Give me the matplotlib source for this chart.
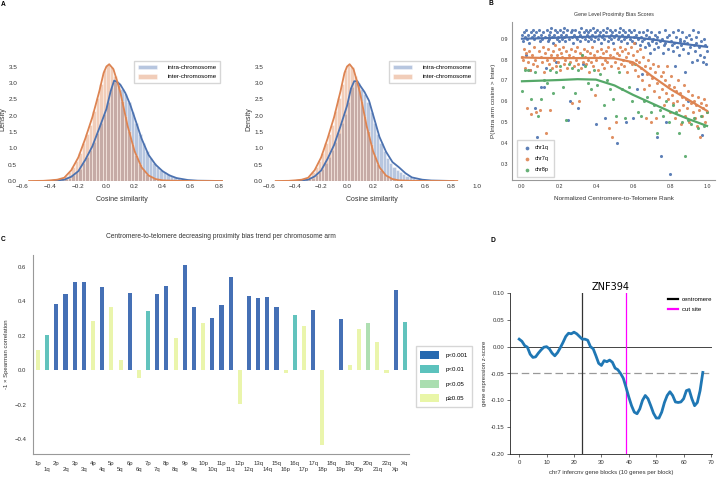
import matplotlib
matplotlib.use("Agg")
import matplotlib.pyplot as plt
import numpy as np
from matplotlib.patches import Patch
from matplotlib.lines import Line2D

plt.rcParams['font.family'] = ['Liberation Sans', 'DejaVu Sans']

# ---------------- panel A data (density of cosine similarity) ----------------
intra_bin_lo = -0.325
inter_bin_lo = -0.55
bin_w = 0.025
intra_hist = [0.03, 0.06, 0.10, 0.17, 0.26, 0.37, 0.55, 0.74, 0.96, 1.20, 1.48, 1.78, 2.05,
              2.42, 2.86, 3.02, 3.00, 2.82, 2.66, 2.40, 2.12, 1.78, 1.45, 1.15, 0.92, 0.70,
              0.56, 0.44, 0.34, 0.26, 0.20, 0.14, 0.11, 0.08, 0.06, 0.04, 0.03, 0.02, 0.01,
              0.008, 0.006, 0.005, 0.004, 0.003, 0.002, 0.002]
inter_hist = [0.002, 0.002, 0.003, 0.004, 0.006, 0.012, 0.02, 0.03, 0.05, 0.08, 0.15, 0.26,
              0.42, 0.62, 0.86, 1.15, 1.45, 1.70, 2.15, 2.55, 2.98, 3.38, 3.55, 3.50, 3.22,
              2.92, 2.45, 1.98, 1.52, 1.12, 0.78, 0.52, 0.35, 0.22, 0.14, 0.09, 0.06, 0.04,
              0.025, 0.015]
intra_kde_x = [-0.40, -0.30, -0.25, -0.20, -0.15, -0.10, -0.05, 0.00, 0.03, 0.055, 0.08, 0.10,
               0.135, 0.17, 0.21, 0.25, 0.30, 0.35, 0.40, 0.45, 0.50, 0.58, 0.65, 0.82]
intra_kde_y = [0.0, 0.04, 0.13, 0.30, 0.65, 1.06, 1.62, 2.20, 2.74, 3.07, 3.02, 2.94,
               2.69, 2.33, 1.82, 1.30, 0.80, 0.50, 0.30, 0.17, 0.09, 0.03, 0.01, 0.0]
intra2_kde_y = [0.0, 0.04, 0.14, 0.32, 0.68, 1.10, 1.68, 2.30, 2.82, 3.05, 3.05, 2.92,
                2.72, 2.45, 1.90, 1.35, 0.90, 0.58, 0.42, 0.24, 0.11, 0.04, 0.015, 0.0]
inter_kde_x = [-0.55, -0.45, -0.40, -0.35, -0.30, -0.25, -0.20, -0.15, -0.10, -0.05, -0.02,
               0.00, 0.02, 0.05, 0.08, 0.10, 0.12, 0.15, 0.20, 0.25, 0.30, 0.35, 0.40, 0.50,
               0.60, 0.85]
inter_kde_y = [0.0, 0.005, 0.02, 0.04, 0.10, 0.33, 0.72, 1.30, 1.95, 2.75, 3.30, 3.50, 3.57,
               3.42, 3.00, 2.70, 2.30, 1.70, 0.92, 0.42, 0.17, 0.06, 0.02, 0.005, 0.002, 0.0]

# ---------------- panel B data (gene level scores, ordered by rank) ----------------
chr1q = [0.92, 0.89, 0.93, 0.91, 0.82, 0.94, 0.90, 0.92, 0.88, 0.75, 0.93, 0.91, 0.94, 0.90, 0.92,
         0.57, 0.93, 0.43, 0.91, 0.94, 0.89, 0.67, 0.92, 0.90, 0.93, 0.67, 0.91, 0.76, 0.94, 0.89,
         0.92, 0.90, 0.93, 0.95, 0.91, 0.88, 0.92, 0.94, 0.79, 0.90, 0.93, 0.91, 0.89, 0.94, 0.92,
         0.90, 0.93, 0.91, 0.95, 0.89, 0.92, 0.94, 0.51, 0.90, 0.60, 0.93, 0.91, 0.94, 0.88, 0.92,
         0.94, 0.91, 0.90, 0.57, 0.93, 0.92, 0.89, 0.95, 0.91, 0.78, 0.93, 0.90, 0.94, 0.92, 0.89,
         0.93, 0.91, 0.94, 0.90, 0.92, 0.95, 0.89, 0.93, 0.91, 0.49, 0.94, 0.90, 0.92, 0.93, 0.88,
         0.91, 0.94, 0.92, 0.90, 0.52, 0.93, 0.95, 0.89, 0.91, 0.94, 0.92, 0.90, 0.93, 0.88, 0.91,
         0.94, 0.92, 0.40, 0.90, 0.93, 0.91, 0.95, 0.89, 0.92, 0.94, 0.90, 0.93, 0.50, 0.91, 0.88,
         0.92, 0.94, 0.90, 0.93, 0.89, 0.52, 0.91, 0.94, 0.88, 0.92, 0.66, 0.90, 0.93, 0.87, 0.91,
         0.89, 0.73, 0.93, 0.90, 0.86, 0.92, 0.94, 0.88, 0.91, 0.87, 0.83, 0.93, 0.89, 0.90, 0.85,
         0.92, 0.88, 0.91, 0.43, 0.86, 0.93, 0.89, 0.34, 0.90, 0.83, 0.87, 0.94, 0.88, 0.50, 0.91,
         0.85, 0.92, 0.25, 0.89, 0.87, 0.93, 0.84, 0.88, 0.77, 0.91, 0.86, 0.94, 0.82, 0.89, 0.90,
         0.87, 0.93, 0.85, 0.89, 0.74, 0.91, 0.88, 0.83, 0.60, 0.92, 0.86, 0.90, 0.79, 0.94, 0.87,
         0.84, 0.91, 0.88, 0.80, 0.93, 0.86, 0.82, 0.89, 0.44, 0.79, 0.90, 0.81, 0.87, 0.78, 0.84]
chr7q = [0.81, 0.80, 0.85, 0.76, 0.83, 0.57, 0.79, 0.84, 0.75, 0.54, 0.82, 0.78, 0.86, 0.80, 0.55,
         0.77, 0.84, 0.56, 0.81, 0.79, 0.86, 0.74, 0.83, 0.45, 0.80, 0.85, 0.78, 0.56, 0.82, 0.76,
         0.84, 0.80, 0.87, 0.77, 0.82, 0.79, 0.85, 0.75, 0.83, 0.81, 0.86, 0.78, 0.80, 0.84, 0.76,
         0.82, 0.79, 0.85, 0.59, 0.81, 0.77, 0.84, 0.80, 0.86, 0.78, 0.60, 0.83, 0.76, 0.82, 0.79,
         0.85, 0.81, 0.78, 0.84, 0.80, 0.74, 0.83, 0.79, 0.86, 0.77, 0.82, 0.63, 0.80, 0.84, 0.75,
         0.81, 0.85, 0.78, 0.83, 0.76, 0.80, 0.84, 0.79, 0.86, 0.47, 0.82, 0.77, 0.43, 0.81, 0.85,
         0.79, 0.50, 0.83, 0.76, 0.82, 0.86, 0.78, 0.84, 0.80, 0.77, 0.85, 0.81, 0.74, 0.83, 0.79,
         0.86, 0.78, 0.82, 0.88, 0.75, 0.80, 0.84, 0.72, 0.79, 0.85, 0.76, 0.70, 0.81, 0.66, 0.77,
         0.52, 0.73, 0.80, 0.68, 0.76, 0.50, 0.71, 0.78, 0.65, 0.74, 0.52, 0.69, 0.77, 0.62, 0.72,
         0.66, 0.74, 0.58, 0.70, 0.64, 0.77, 0.61, 0.68, 0.55, 0.72, 0.63, 0.59, 0.67, 0.52, 0.65,
         0.60, 0.70, 0.56, 0.64, 0.49, 0.62, 0.58, 0.68, 0.53, 0.61, 0.57, 0.65, 0.50, 0.59, 0.63,
         0.55, 0.60, 0.52, 0.58, 0.48, 0.62, 0.56, 0.43, 0.59, 0.53, 0.57, 0.61, 0.50, 0.58, 0.55]
chr8p = [0.65, 0.75, 0.75, 0.61, 0.74, 0.53, 0.61, 0.70, 0.69, 0.75, 0.64, 0.74,
         0.77, 0.67, 0.51, 0.78, 0.76, 0.64, 0.75, 0.82, 0.77, 0.69, 0.66, 0.75,
         0.68, 0.73, 0.58, 0.70, 0.66, 0.61, 0.53, 0.74, 0.66, 0.52, 0.67, 0.60,
         0.78, 0.55, 0.53, 0.60, 0.62, 0.55, 0.58, 0.45, 0.56, 0.53, 0.60, 0.50,
         0.58, 0.55, 0.45, 0.50, 0.34, 0.51, 0.49, 0.52, 0.47, 0.53, 0.48, 0.55]
fit_x = [0.0, 0.1, 0.2, 0.3, 0.4, 0.5, 0.6, 0.65, 0.7, 0.8, 0.9, 1.0]
chr1q_fit = [0.900, 0.902, 0.905, 0.908, 0.910, 0.912, 0.906, 0.902, 0.897, 0.884, 0.872, 0.861]
chr7q_fit = [0.810, 0.808, 0.807, 0.807, 0.808, 0.806, 0.787, 0.756, 0.722, 0.660, 0.607, 0.554]
chr8p_fit = [0.696, 0.699, 0.702, 0.706, 0.704, 0.676, 0.631, 0.611, 0.591, 0.551, 0.515, 0.482]

# ---------------- panel C data ----------------
arms = ['1p', '1q', '2p', '2q', '3p', '3q', '4p', '4q', '5p', '5q', '6p', '6q', '7p', '7q',
        '8p', '8q', '9p', '9q', '10p', '10q', '11p', '11q', '12p', '12q', '13q', '14q', '15q',
        '16p', '16q', '17p', '17q', '18p', '18q', '19p', '19q', '20p', '20q', '21q', '22q',
        'Xp', 'Xq']
neg_spearman = [0.116, 0.203, 0.382, 0.44, 0.51, 0.51, 0.288, 0.485, 0.367, 0.06, 0.45, -0.042,
                0.342, 0.442, 0.488, 0.187, 0.61, 0.367, 0.276, 0.305, 0.378, 0.542, -0.195,
                0.43, 0.417, 0.425, 0.369, -0.014, 0.322, 0.257, 0.347, -0.434, 0.0, 0.297,
                0.029, 0.24, 0.274, 0.166, -0.017, 0.465, 0.28]
p_class = ['p≥0.05', 'p<0.01', 'p<0.001', 'p<0.001', 'p<0.001', 'p<0.001', 'p≥0.05', 'p<0.001',
           'p≥0.05', 'p≥0.05', 'p<0.001', 'p≥0.05', 'p<0.01', 'p<0.001', 'p<0.001', 'p≥0.05',
           'p<0.001', 'p<0.001', 'p≥0.05', 'p<0.001', 'p<0.001', 'p<0.001', 'p≥0.05', 'p<0.001',
           'p<0.001', 'p<0.001', 'p<0.001', 'p≥0.05', 'p<0.01', 'p≥0.05', 'p<0.001', 'p≥0.05',
           'p≥0.05', 'p<0.001', 'p≥0.05', 'p≥0.05', 'p<0.05', 'p≥0.05', 'p≥0.05', 'p<0.001',
           'p<0.01']
p_levels = ['p<0.001', 'p<0.01', 'p<0.05', 'p≥0.05']
bar_colors = {'p<0.001': '#4570b5', 'p<0.01': '#62c3bd', 'p<0.05': '#afdfb2', 'p≥0.05': '#eaf5ac'}
legend_colors = {'p<0.001': '#2669b0', 'p<0.01': '#5cc2bd', 'p<0.05': '#aadeb0', 'p≥0.05': '#e9f6a8'}

# ---------------- panel D data ----------------
blocks = list(range(68))
zscore = [0.014, 0.010, 0.002, -0.001, -0.014, -0.020, -0.019, -0.012, -0.006, -0.001,
          0.000, -0.004, -0.012, -0.017, -0.011, -0.002, 0.008, 0.019, 0.025, 0.024,
          0.027, 0.024, 0.019, 0.014, 0.014, 0.012, 0.000, -0.004, -0.017, -0.031,
          -0.035, -0.026, -0.028, -0.025, -0.029, -0.040, -0.043, -0.050, -0.059, -0.076,
          -0.094, -0.110, -0.122, -0.125, -0.116, -0.100, -0.091, -0.097, -0.110, -0.124,
          -0.133, -0.133, -0.122, -0.104, -0.091, -0.084, -0.091, -0.103, -0.104, -0.103,
          -0.097, -0.082, -0.080, -0.097, -0.110, -0.104, -0.082, -0.048]
centromere = 23
cut_site = 39

W, H = 719, 478
fig = plt.figure(figsize=(W / 100, H / 100), dpi=100)


def rect(l, t, r, b):
    return [l / W, 1 - b / H, (r - l) / W, (b - t) / H]


blue, orange, green = '#4c72b0', '#dd8452', '#55a868'


# ---- A ----
def density_panel(box, xlim, intra_y, xticks):
    ax = fig.add_axes(box)
    ax.bar(intra_bin_lo + bin_w * np.arange(len(intra_hist)), intra_hist, width=bin_w,
           align='edge', color=blue, alpha=0.4, edgecolor='white', linewidth=0.6,
           label='intra-chromosome')
    ax.plot(intra_kde_x, intra_y, color=blue, lw=1.3)
    ax.bar(inter_bin_lo + bin_w * np.arange(len(inter_hist)), inter_hist, width=bin_w,
           align='edge', color=orange, alpha=0.4, edgecolor='white', linewidth=0.6,
           label='inter-chromosome')
    ax.plot(inter_kde_x, inter_kde_y, color=orange, lw=1.3)
    ax.set_xlim(*xlim)
    ax.set_ylim(0, 3.76)
    ax.set_xticks(xticks)
    ax.set_yticks(np.arange(0, 3.6, 0.5))
    for s in ax.spines.values():
        s.set_visible(False)
    ax.tick_params(length=0, labelsize=4.6, pad=2, colors='#333333')
    ax.set_xlabel('Cosine similarity', fontsize=5, labelpad=5, color='#333333')
    ax.set_ylabel('Density', fontsize=5, labelpad=1, color='#333333')
    ax.legend(loc='upper right', fontsize=4.4, frameon=True, edgecolor='#cccccc',
              fancybox=False, handlelength=3.2, handleheight=0.8, borderpad=0.6,
              labelspacing=0.6, handletextpad=1.6)
    return ax


density_panel(rect(20, 58, 223, 181), (-0.615, 0.83), intra_kde_y,
              [-0.6, -0.4, -0.2, 0.0, 0.2, 0.4, 0.6, 0.8])
density_panel(rect(266, 58, 478, 181), (-0.625, 1.01), intra2_kde_y,
              [-0.6, -0.4, -0.2, 0.0, 0.2, 0.4, 0.6, 0.8, 1.0])

# ---- B ----
axb = fig.add_axes(rect(512, 22, 715, 180))
for vals, col, name in [(chr1q, blue, 'chr1q'), (chr7q, orange, 'chr7q'), (chr8p, green, 'chr8p')]:
    rank = np.arange(len(vals)) / (len(vals) - 1)
    axb.scatter(rank, vals, s=5, color=col, alpha=0.9, linewidths=0, label=name)
for fit, col in [(chr1q_fit, blue), (chr7q_fit, orange), (chr8p_fit, green)]:
    axb.plot(fit_x, fit, color=col, lw=1.6)
axb.set_xlim(-0.054, 1.043)
axb.set_ylim(0.223, 0.98)
axb.set_xticks([0, 0.2, 0.4, 0.6, 0.8, 1.0])
axb.set_yticks([0.3, 0.4, 0.5, 0.6, 0.7, 0.8, 0.9])
for s in ['top', 'right']:
    axb.spines[s].set_visible(False)
for s in ['left', 'bottom']:
    axb.spines[s].set_color('#999999')
    axb.spines[s].set_linewidth(0.8)
axb.tick_params(length=0, labelsize=3.8, pad=3, colors='#333333')
axb.set_title('Gene Level Proximity Bias Scores', fontsize=3.8, pad=4, color='#333333')
axb.set_xlabel('Normalized Centromere-to-Telomere Rank', fontsize=4.6, labelpad=5, color='#333333')
axb.set_ylabel('P(Intra arm cosine > Inter)', fontsize=4.6, labelpad=3, color='#333333')
axb.legend(loc='lower left', fontsize=4, frameon=True, edgecolor='#cccccc', fancybox=False,
           markerscale=1.2, labelspacing=1.1, borderpad=0.9, handletextpad=0.3,
           bbox_to_anchor=(0.01, 0.0))

# ---- C ----
axc = fig.add_axes(rect(33, 255, 409, 454))
xpos = np.arange(len(arms))
axc.bar(xpos, neg_spearman, width=0.45, color=[bar_colors[p] for p in p_class])
axc.set_xlim(-0.55, 40.45)
axc.set_ylim(-0.485, 0.668)
axc.set_xticks(xpos)
axc.set_xticklabels([a if i % 2 == 0 else '\n' + a for i, a in enumerate(arms)])
axc.set_yticks([-0.4, -0.2, 0.0, 0.2, 0.4, 0.6])
for s in ['top', 'right']:
    axc.spines[s].set_visible(False)
for s in ['left', 'bottom']:
    axc.spines[s].set_color('#999999')
    axc.spines[s].set_linewidth(0.8)
axc.tick_params(length=0, labelsize=4.3, pad=5, colors='#333333')
axc.set_title('Centromere-to-telomere decreasing proximity bias trend per chromosome arm',
              fontsize=4.8, pad=12, color='#333333')
axc.set_ylabel('-1 × Spearman correlation', fontsize=4.3, labelpad=4, color='#333333')
handles = [Patch(facecolor=legend_colors[p], label=p) for p in p_levels]
fig.legend(handles=handles, loc='center left', bbox_to_anchor=(416 / W, 1 - 376.5 / H),
           fontsize=4.4, frameon=True, edgecolor='#cccccc', fancybox=False,
           handlelength=3.0, handleheight=1.6, labelspacing=1.1, borderpad=0.7,
           handletextpad=1.2, borderaxespad=0)

# ---- D ----
axd = fig.add_axes(rect(510, 293, 712, 454))
axd.axhline(0, color='#444444', lw=0.7)
axd.axhline(-0.05, color='#999999', lw=0.9, dashes=(6, 3))
axd.axvline(centromere, color='#333333', lw=0.9, label='centromere')
axd.axvline(cut_site, color='magenta', lw=0.9, label='cut site')
axd.plot(blocks, zscore, color='#1f77b4', lw=2)
axd.set_xlim(-3.35, 70.35)
axd.set_ylim(-0.2, 0.1)
axd.set_xticks(range(0, 71, 10))
axd.set_yticks([-0.2, -0.15, -0.1, -0.05, 0.0, 0.05, 0.1])
axd.yaxis.set_major_formatter(matplotlib.ticker.FormatStrFormatter('%.2f'))
for s in ['top', 'right']:
    axd.spines[s].set_visible(False)
for s in ['left', 'bottom']:
    axd.spines[s].set_color('#222222')
    axd.spines[s].set_linewidth(0.6)
axd.tick_params(length=2, width=0.5, labelsize=4.3, pad=2, colors='#333333')
axd.set_title('ZNF394', fontsize=7, pad=2, family='DejaVu Sans')
axd.set_xlabel('chr7 infercnv gene blocks (10 genes per block)', fontsize=4.3, labelpad=4,
               color='#333333')
axd.set_ylabel('gene expression z-score', fontsize=4.3, labelpad=3, color='#333333')
legd = [Line2D([0], [0], color='black', lw=1.6, label='centromere'),
        Line2D([0], [0], color='magenta', lw=1.6, label='cut site')]
fig.legend(handles=legd, loc='upper left', bbox_to_anchor=(668 / W, 1 - 297 / H),
           fontsize=4.3, frameon=False, handlelength=1.7, handletextpad=0.6,
           labelspacing=0.8, borderaxespad=0, borderpad=0)

# panel letters
for letter, x, y in [('A', 1, 1), ('B', 489, 0), ('C', 1, 236), ('D', 490, 237)]:
    fig.text(x / W, 1 - y / H, letter, fontsize=4.8, fontweight='bold', va='top', ha='left')

fig.savefig('out.png', dpi=100)
